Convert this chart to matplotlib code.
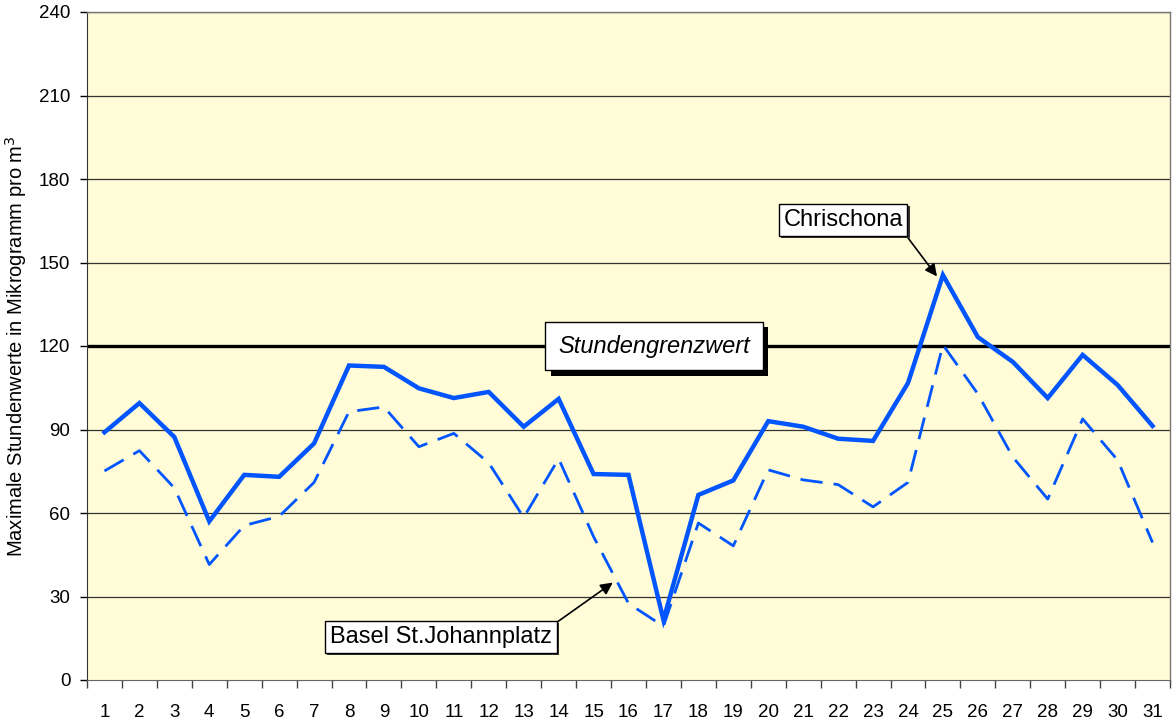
import matplotlib
matplotlib.use("Agg")
import matplotlib.pyplot as plt
import matplotlib.patheffects as pe
import numpy as np

plt.rcParams['font.family'] = ['Liberation Sans', 'DejaVu Sans']

days = list(range(1, 32))
chrischona = [89, 99.5, 87.3, 57, 73.7, 73, 85, 113, 112.5, 104.8, 101.3, 103.5, 91, 101,
              74, 73.7, 21.6, 66.5, 71.7, 93, 91, 86.7, 85.9, 106.7, 145.5, 123.2, 114.3,
              101.3, 116.8, 106, 91.3]
basel = [75.1, 82.4, 69, 41.5, 55.5, 58.8, 71, 96.4, 98.1, 83.8, 88.6, 78, 58.4, 79.5,
         51.5, 27.5, 19.3, 56.4, 48.2, 75.5, 71.9, 70.2, 62.2, 71, 120.4, 102.8, 80.1,
         65, 93.8, 79, 49.4]
grenzwert = 120
yticks = list(range(0, 241, 30))

fig = plt.figure(figsize=(11.73, 7.25), dpi=100)
ax = fig.add_axes([87 / 1173, 1 - 680 / 725, (1170 - 87) / 1173, (680 - 12) / 725])
ax.set_facecolor('#fffcd7')

ax.set_xlim(0.5, 31.5)
ax.set_ylim(0, 240)

for v in yticks[1:]:
    ax.axhline(v, color='#333333', lw=0.9, zorder=1)

ax.axhline(grenzwert, color='black', lw=2.4, zorder=2)

ax.plot(days, basel, color='#0055ff', lw=2.0, dashes=(8, 4), zorder=3)
ax.plot(days, chrischona, color='#0055ff', lw=3.2, solid_joinstyle='miter', zorder=4)

# axes and ticks, Excel style
ax.set_yticks(yticks)
ax.tick_params(axis='y', direction='out', length=5, width=1, labelsize=13.5, pad=7)
ax.set_xticks(days)
ax.set_xticks(np.arange(0.5, 32, 1), minor=True)
ax.tick_params(axis='x', which='major', length=0, labelsize=13.5, pad=17)
ax.tick_params(axis='x', which='minor', direction='out', length=6, width=1, color='#444444')
for s in ['top', 'right']:
    ax.spines[s].set_color('#777777')
    ax.spines[s].set_linewidth(1)
ax.spines['left'].set_color('#333333')
ax.spines['bottom'].set_color('#666666')

ax.set_ylabel('Maximale Stundenwerte in Mikrogramm pro m$^3$', fontsize=14.5)
ax.yaxis.set_label_coords(-0.054, 0.5)

# annotations
t = ax.text(16.73, 120, 'Stundengrenzwert', fontsize=17, style='italic', ha='center',
            va='center', zorder=6,
            bbox=dict(boxstyle='square,pad=0.55', fc='white', ec='black', lw=1))
t.get_bbox_patch().set_path_effects([pe.withSimplePatchShadow(offset=(4, -4),
                                                              shadow_rgbFace='black', alpha=1)])

a1 = ax.annotate('Chrischona', xy=(24.83, 145), xytext=(22.14, 165.3), fontsize=17,
                 ha='center', va='center', zorder=6,
                 bbox=dict(boxstyle='square,pad=0.2', fc='white', ec='black', lw=1),
                 arrowprops=dict(arrowstyle='-|>', color='black', lw=1.2, mutation_scale=18,
                                 shrinkA=0, shrinkB=0, relpos=(1, 0)))
a2 = ax.annotate('Basel St.Johannplatz', xy=(15.55, 35), xytext=(10.63, 15.5), fontsize=17,
                 ha='center', va='center', zorder=6,
                 bbox=dict(boxstyle='square,pad=0.2', fc='white', ec='black', lw=1),
                 arrowprops=dict(arrowstyle='-|>', color='black', lw=1.2, mutation_scale=18,
                                 shrinkA=0, shrinkB=0, relpos=(1, 1)))
for a in (a1, a2):
    a.get_bbox_patch().set_path_effects([pe.withSimplePatchShadow(offset=(1.5, -1.5),
                                                                  shadow_rgbFace='#333333', alpha=1)])

fig.savefig('out.png', dpi=100, facecolor='white')
